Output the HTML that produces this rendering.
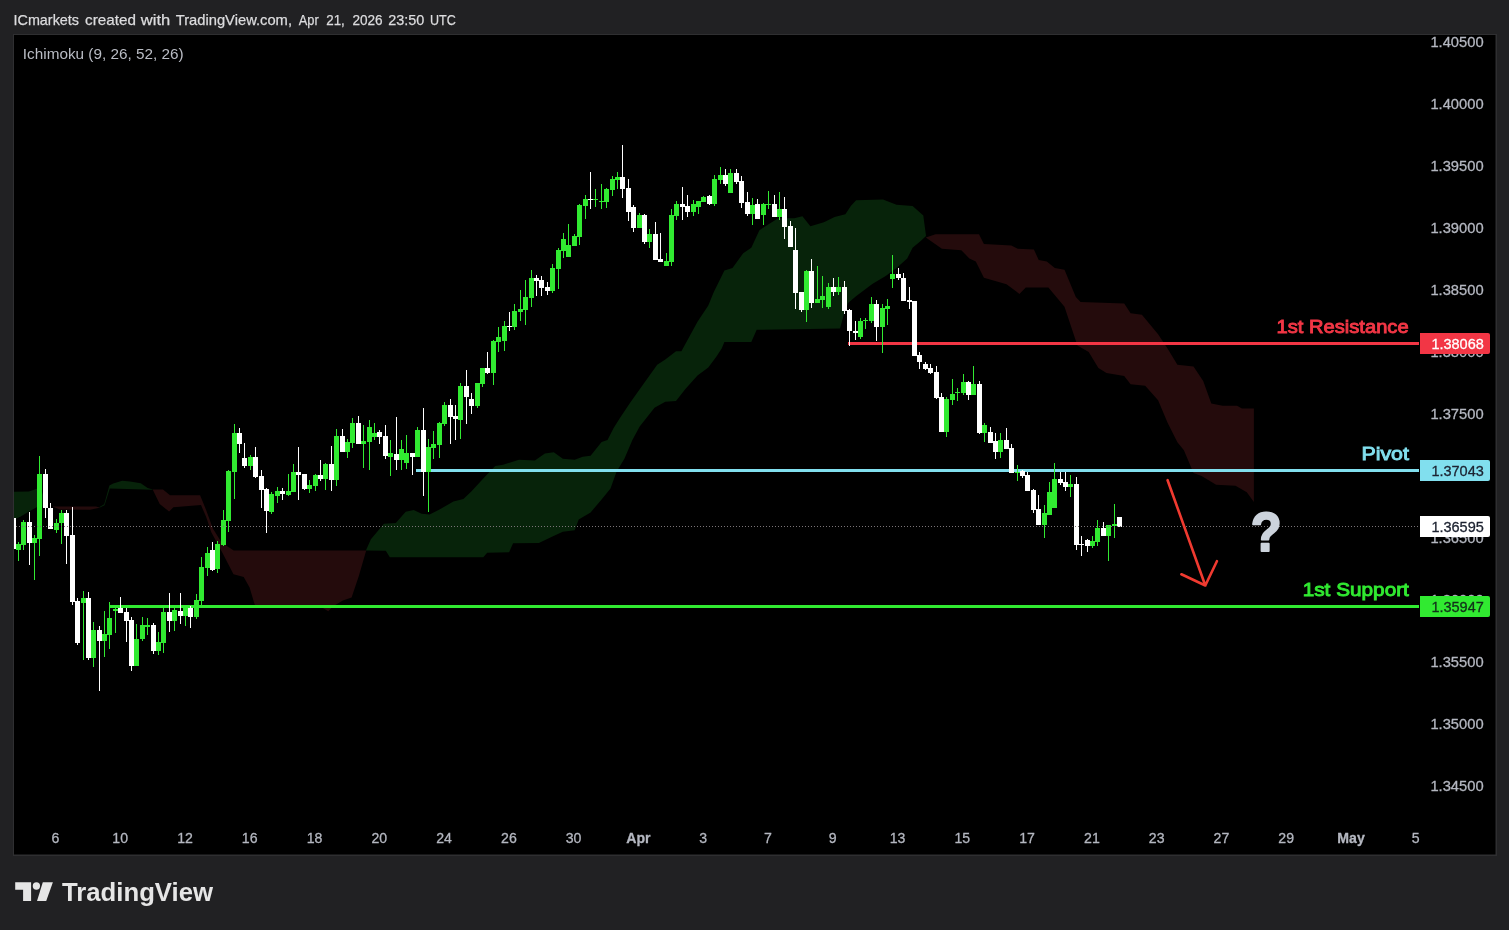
<!DOCTYPE html>
<html lang="en"><head><meta charset="utf-8"><title>ICmarkets chart - TradingView</title>
<style>
html,body{margin:0;padding:0;background:#212123;width:1509px;height:930px;overflow:hidden}
svg{position:absolute;left:0;top:0;display:block}
text{font-family:"Liberation Sans",sans-serif}
</style></head><body>
<svg width="1509" height="930" viewBox="0 0 1509 930">
<rect x="0" y="0" width="1509" height="930" fill="#212123"/>
<rect x="13" y="34" width="1484" height="822" fill="#2f2f31"/>
<rect x="14" y="35" width="1481.5" height="819.5" fill="#000"/>
<text y="24.9" fill="#dcdcde" font-size="15" stroke="#dcdcde" stroke-width="0.25"><tspan x="13.5" textLength="65.5" lengthAdjust="spacingAndGlyphs">ICmarkets</tspan> <tspan x="85.1" textLength="50.9" lengthAdjust="spacingAndGlyphs">created</tspan> <tspan x="140.8" textLength="29.4" lengthAdjust="spacingAndGlyphs">with</tspan> <tspan x="175.7" textLength="116.3" lengthAdjust="spacingAndGlyphs">TradingView.com,</tspan> <tspan x="298.7" textLength="20" lengthAdjust="spacingAndGlyphs">Apr</tspan> <tspan x="326.2" textLength="18.6" lengthAdjust="spacingAndGlyphs">21,</tspan> <tspan x="352.4" textLength="30.2" lengthAdjust="spacingAndGlyphs">2026</tspan> <tspan x="388.2" textLength="36.1" lengthAdjust="spacingAndGlyphs">23:50</tspan> <tspan x="430" textLength="25.8" lengthAdjust="spacingAndGlyphs">UTC</tspan></text>
<text x="22.8" y="59.1" textLength="160.9" lengthAdjust="spacingAndGlyphs" fill="#b9bcc4" font-size="14.8">Ichimoku (9, 26, 52, 26)</text>
<g id="cloud">
<polygon fill="#07230a" points="14.0,491.8 28.9,491.5 37.5,488.4 41.0,489.0 47.0,506.5 47.0,506.8 37.5,506.8 28.9,511.6 20.3,516.8 14.0,519.4"/>
<polygon fill="#240b0c" points="53.0,506.5 96.0,506.5 99.5,507.5 99.5,507.8 90.0,509.8 60.0,509.6 53.0,506.8"/>
<polygon fill="#07230a" points="99.5,507.0 104.2,504.2 109.4,485.5 113.2,483.5 122.3,480.7 130.0,481.6 140.8,483.2 147.6,488.0 152.8,489.6 152.8,489.8 109.8,488.6 104.6,505.2 99.5,507.8"/>
<polygon fill="#240b0c" points="152.8,489.6 163.0,489.6 170.0,495.3 200.1,495.3 206.1,509.9 213.0,528.8 221.6,542.6 233.7,550.4 366.2,550.4 366.2,550.6 358.9,575.8 351.6,597.6 342.9,600.6 332.7,606.4 328.3,611.3 322.4,607.8 255.4,606.4 253.9,602.0 249.6,587.4 243.7,577.0 233.5,574.3 221.6,551.2 211.3,532.3 206.1,516.8 201.0,505.1 173.4,507.3 169.1,511.6 159.7,503.9 152.8,489.8"/>
<polygon fill="#07230a" points="366.0,550.2 370.9,539.3 383.9,523.8 395.8,523.0 405.7,511.8 413.7,509.9 421.6,513.8 429.6,514.4 439.5,509.5 453.4,501.5 463.4,499.1 471.3,491.6 483.3,478.6 495.2,466.1 503.1,464.7 519.0,459.8 534.9,460.4 544.9,453.4 553.8,452.2 562.8,458.8 574.7,459.8 582.7,456.8 590.6,455.8 601.6,441.9 607.5,439.9 613.5,428.3 619.6,418.5 630.3,402.4 643.8,383.5 657.2,364.7 665.3,359.4 676.0,351.3 681.4,351.3 697.5,321.7 708.3,305.6 713.7,292.2 724.4,270.6 732.5,268.0 743.2,253.2 751.3,247.8 759.4,230.3 767.4,224.9 778.2,218.2 794.3,218.2 802.4,216.3 810.4,226.3 823.9,222.3 834.6,216.9 845.4,214.2 850.8,206.1 856.1,200.2 883.0,199.4 896.5,204.8 912.6,206.1 923.3,215.5 926.0,235.7 926.0,236.0 920.7,241.1 912.6,247.8 907.2,258.5 896.5,268.0 885.7,276.0 872.3,284.1 856.0,296.2 848.0,302.9 844.0,313.7 840.0,328.4 756.7,329.8 751.3,341.9 724.4,341.9 721.7,348.6 716.3,356.7 708.3,367.4 697.5,375.5 685.4,388.9 676.0,401.0 665.3,401.8 654.5,407.7 639.7,426.6 632.4,439.9 624.4,458.8 616.5,471.7 610.5,488.6 601.6,499.5 590.6,512.4 578.7,519.4 574.7,530.3 562.8,531.7 550.9,537.3 538.9,542.9 513.1,543.3 509.1,552.2 487.2,552.8 483.3,557.2 389.8,557.2 385.8,550.8 366.0,550.6"/>
<polygon fill="#240b0c" points="925.8,237.4 935.5,234.2 979.0,234.2 983.9,243.9 1011.3,245.5 1017.7,248.7 1033.9,249.4 1038.7,260.0 1046.8,261.6 1054.8,268.1 1064.5,269.7 1075.8,297.1 1080.6,301.9 1124.2,303.5 1130.6,313.2 1141.9,314.8 1158.1,334.2 1167.7,348.7 1177.4,364.8 1193.5,366.5 1203.2,381.0 1211.3,403.5 1222.6,405.8 1237.1,405.8 1241.9,408.4 1253.9,408.4 1253.9,501.9 1246.8,492.3 1235.5,485.8 1216.1,484.8 1201.6,476.1 1193.5,472.9 1183.9,450.3 1177.4,442.3 1167.7,422.9 1158.1,400.3 1145.2,385.8 1130.6,384.2 1124.2,376.1 1106.5,372.9 1098.4,368.1 1088.7,351.9 1077.4,345.5 1064.5,306.8 1048.4,287.4 1025.8,287.4 1019.4,293.9 1006.5,284.2 983.9,277.7 975.8,261.6 969.4,258.4 961.3,250.3 941.9,248.7 925.8,237.6"/>
</g>
<g id="lines" shape-rendering="crispEdges">
<rect x="848" y="342" width="571" height="3" fill="#f23645"/>
<rect x="416" y="469" width="1003" height="3" fill="#81dfee"/>
<rect x="109" y="605" width="1310" height="3" fill="#31ea31"/>
</g>
<g id="axis">
<text x="1430.4" y="47.2" textLength="53.2" lengthAdjust="spacingAndGlyphs" fill="#b4b7c0" stroke="#b4b7c0" stroke-width="0.3" font-size="15.2">1.40500</text>
<text x="1430.4" y="109.2" textLength="53.2" lengthAdjust="spacingAndGlyphs" fill="#b4b7c0" stroke="#b4b7c0" stroke-width="0.3" font-size="15.2">1.40000</text>
<text x="1430.4" y="171.2" textLength="53.2" lengthAdjust="spacingAndGlyphs" fill="#b4b7c0" stroke="#b4b7c0" stroke-width="0.3" font-size="15.2">1.39500</text>
<text x="1430.4" y="233.2" textLength="53.2" lengthAdjust="spacingAndGlyphs" fill="#b4b7c0" stroke="#b4b7c0" stroke-width="0.3" font-size="15.2">1.39000</text>
<text x="1430.4" y="295.2" textLength="53.2" lengthAdjust="spacingAndGlyphs" fill="#b4b7c0" stroke="#b4b7c0" stroke-width="0.3" font-size="15.2">1.38500</text>
<text x="1430.4" y="357.2" textLength="53.2" lengthAdjust="spacingAndGlyphs" fill="#b4b7c0" stroke="#b4b7c0" stroke-width="0.3" font-size="15.2">1.38000</text>
<text x="1430.4" y="419.2" textLength="53.2" lengthAdjust="spacingAndGlyphs" fill="#b4b7c0" stroke="#b4b7c0" stroke-width="0.3" font-size="15.2">1.37500</text>
<text x="1430.4" y="479.1" textLength="53.2" lengthAdjust="spacingAndGlyphs" fill="#b4b7c0" stroke="#b4b7c0" stroke-width="0.3" font-size="15.2">1.37000</text>
<text x="1430.4" y="543.2" textLength="53.2" lengthAdjust="spacingAndGlyphs" fill="#b4b7c0" stroke="#b4b7c0" stroke-width="0.3" font-size="15.2">1.36500</text>
<text x="1430.4" y="605.2" textLength="53.2" lengthAdjust="spacingAndGlyphs" fill="#b4b7c0" stroke="#b4b7c0" stroke-width="0.3" font-size="15.2">1.36000</text>
<text x="1430.4" y="667.2" textLength="53.2" lengthAdjust="spacingAndGlyphs" fill="#b4b7c0" stroke="#b4b7c0" stroke-width="0.3" font-size="15.2">1.35500</text>
<text x="1430.4" y="729.2" textLength="53.2" lengthAdjust="spacingAndGlyphs" fill="#b4b7c0" stroke="#b4b7c0" stroke-width="0.3" font-size="15.2">1.35000</text>
<text x="1430.4" y="791.2" textLength="53.2" lengthAdjust="spacingAndGlyphs" fill="#b4b7c0" stroke="#b4b7c0" stroke-width="0.3" font-size="15.2">1.34500</text>
<text transform="translate(55.4 843.4) scale(0.93 1)" text-anchor="middle" fill="#b4b7c0" stroke="#b4b7c0" stroke-width="0.3" font-size="15.2">6</text>
<text transform="translate(120.2 843.4) scale(0.93 1)" text-anchor="middle" fill="#b4b7c0" stroke="#b4b7c0" stroke-width="0.3" font-size="15.2">10</text>
<text transform="translate(185.0 843.4) scale(0.93 1)" text-anchor="middle" fill="#b4b7c0" stroke="#b4b7c0" stroke-width="0.3" font-size="15.2">12</text>
<text transform="translate(249.7 843.4) scale(0.93 1)" text-anchor="middle" fill="#b4b7c0" stroke="#b4b7c0" stroke-width="0.3" font-size="15.2">16</text>
<text transform="translate(314.5 843.4) scale(0.93 1)" text-anchor="middle" fill="#b4b7c0" stroke="#b4b7c0" stroke-width="0.3" font-size="15.2">18</text>
<text transform="translate(379.3 843.4) scale(0.93 1)" text-anchor="middle" fill="#b4b7c0" stroke="#b4b7c0" stroke-width="0.3" font-size="15.2">20</text>
<text transform="translate(444.1 843.4) scale(0.93 1)" text-anchor="middle" fill="#b4b7c0" stroke="#b4b7c0" stroke-width="0.3" font-size="15.2">24</text>
<text transform="translate(508.9 843.4) scale(0.93 1)" text-anchor="middle" fill="#b4b7c0" stroke="#b4b7c0" stroke-width="0.3" font-size="15.2">26</text>
<text transform="translate(573.6 843.4) scale(0.93 1)" text-anchor="middle" fill="#b4b7c0" stroke="#b4b7c0" stroke-width="0.3" font-size="15.2">30</text>
<text transform="translate(638.4 843.4) scale(0.93 1)" text-anchor="middle" fill="#b4b7c0" stroke="#b4b7c0" stroke-width="0.3" font-size="15.2" font-weight="bold">Apr</text>
<text transform="translate(703.2 843.4) scale(0.93 1)" text-anchor="middle" fill="#b4b7c0" stroke="#b4b7c0" stroke-width="0.3" font-size="15.2">3</text>
<text transform="translate(768.0 843.4) scale(0.93 1)" text-anchor="middle" fill="#b4b7c0" stroke="#b4b7c0" stroke-width="0.3" font-size="15.2">7</text>
<text transform="translate(832.8 843.4) scale(0.93 1)" text-anchor="middle" fill="#b4b7c0" stroke="#b4b7c0" stroke-width="0.3" font-size="15.2">9</text>
<text transform="translate(897.5 843.4) scale(0.93 1)" text-anchor="middle" fill="#b4b7c0" stroke="#b4b7c0" stroke-width="0.3" font-size="15.2">13</text>
<text transform="translate(962.3 843.4) scale(0.93 1)" text-anchor="middle" fill="#b4b7c0" stroke="#b4b7c0" stroke-width="0.3" font-size="15.2">15</text>
<text transform="translate(1027.1 843.4) scale(0.93 1)" text-anchor="middle" fill="#b4b7c0" stroke="#b4b7c0" stroke-width="0.3" font-size="15.2">17</text>
<text transform="translate(1091.9 843.4) scale(0.93 1)" text-anchor="middle" fill="#b4b7c0" stroke="#b4b7c0" stroke-width="0.3" font-size="15.2">21</text>
<text transform="translate(1156.7 843.4) scale(0.93 1)" text-anchor="middle" fill="#b4b7c0" stroke="#b4b7c0" stroke-width="0.3" font-size="15.2">23</text>
<text transform="translate(1221.4 843.4) scale(0.93 1)" text-anchor="middle" fill="#b4b7c0" stroke="#b4b7c0" stroke-width="0.3" font-size="15.2">27</text>
<text transform="translate(1286.2 843.4) scale(0.93 1)" text-anchor="middle" fill="#b4b7c0" stroke="#b4b7c0" stroke-width="0.3" font-size="15.2">29</text>
<text transform="translate(1351.0 843.4) scale(0.93 1)" text-anchor="middle" fill="#b4b7c0" stroke="#b4b7c0" stroke-width="0.3" font-size="15.2" font-weight="bold">May</text>
<text transform="translate(1415.8 843.4) scale(0.93 1)" text-anchor="middle" fill="#b4b7c0" stroke="#b4b7c0" stroke-width="0.3" font-size="15.2">5</text>
</g>
<g id="candles" shape-rendering="crispEdges">
<rect x="14" y="518" width="2" height="31" fill="#ffffff"/>
<rect x="18" y="542" width="1" height="19" fill="#31ea31"/>
<rect x="16" y="544" width="5" height="6" fill="#31ea31"/>
<rect x="23" y="520" width="1" height="30" fill="#31ea31"/>
<rect x="21" y="522" width="5" height="23" fill="#31ea31"/>
<rect x="29" y="512" width="1" height="53" fill="#ffffff"/>
<rect x="27" y="522" width="5" height="21" fill="#ffffff"/>
<rect x="34" y="535" width="1" height="45" fill="#31ea31"/>
<rect x="32" y="538" width="5" height="5" fill="#31ea31"/>
<rect x="39" y="456" width="1" height="100" fill="#31ea31"/>
<rect x="37" y="474" width="5" height="65" fill="#31ea31"/>
<rect x="45" y="469" width="1" height="49" fill="#ffffff"/>
<rect x="43" y="474" width="5" height="34" fill="#ffffff"/>
<rect x="50" y="503" width="1" height="26" fill="#ffffff"/>
<rect x="48" y="508" width="5" height="21" fill="#ffffff"/>
<rect x="56" y="519" width="1" height="14" fill="#31ea31"/>
<rect x="54" y="523" width="5" height="7" fill="#31ea31"/>
<rect x="61" y="510" width="1" height="34" fill="#31ea31"/>
<rect x="59" y="513" width="5" height="10" fill="#31ea31"/>
<rect x="66" y="510" width="1" height="54" fill="#ffffff"/>
<rect x="64" y="513" width="5" height="23" fill="#ffffff"/>
<rect x="72" y="507" width="1" height="98" fill="#ffffff"/>
<rect x="70" y="535" width="5" height="67" fill="#ffffff"/>
<rect x="77" y="598" width="1" height="47" fill="#ffffff"/>
<rect x="75" y="601" width="5" height="42" fill="#ffffff"/>
<rect x="83" y="591" width="1" height="69" fill="#31ea31"/>
<rect x="81" y="598" width="5" height="5" fill="#31ea31"/>
<rect x="88" y="592" width="1" height="68" fill="#ffffff"/>
<rect x="86" y="598" width="5" height="60" fill="#ffffff"/>
<rect x="93" y="622" width="1" height="45" fill="#31ea31"/>
<rect x="91" y="630" width="5" height="28" fill="#31ea31"/>
<rect x="99" y="626" width="1" height="65" fill="#ffffff"/>
<rect x="97" y="630" width="5" height="11" fill="#ffffff"/>
<rect x="104" y="611" width="1" height="46" fill="#31ea31"/>
<rect x="102" y="634" width="5" height="7" fill="#31ea31"/>
<rect x="109" y="602" width="1" height="47" fill="#31ea31"/>
<rect x="107" y="618" width="5" height="17" fill="#31ea31"/>
<rect x="115" y="607" width="1" height="26" fill="#31ea31"/>
<rect x="113" y="609" width="5" height="2" fill="#31ea31"/>
<rect x="120" y="597" width="1" height="16" fill="#ffffff"/>
<rect x="118" y="608" width="5" height="5" fill="#ffffff"/>
<rect x="126" y="608" width="1" height="34" fill="#ffffff"/>
<rect x="124" y="612" width="5" height="9" fill="#ffffff"/>
<rect x="131" y="617" width="1" height="54" fill="#ffffff"/>
<rect x="129" y="620" width="5" height="46" fill="#ffffff"/>
<rect x="136" y="624" width="1" height="42" fill="#31ea31"/>
<rect x="134" y="639" width="5" height="27" fill="#31ea31"/>
<rect x="142" y="617" width="1" height="24" fill="#31ea31"/>
<rect x="140" y="625" width="5" height="14" fill="#31ea31"/>
<rect x="147" y="618" width="1" height="17" fill="#31ea31"/>
<rect x="145" y="625" width="5" height="2" fill="#31ea31"/>
<rect x="153" y="623" width="1" height="31" fill="#ffffff"/>
<rect x="151" y="625" width="5" height="26" fill="#ffffff"/>
<rect x="158" y="632" width="1" height="23" fill="#31ea31"/>
<rect x="156" y="642" width="5" height="9" fill="#31ea31"/>
<rect x="163" y="608" width="1" height="45" fill="#31ea31"/>
<rect x="161" y="612" width="5" height="31" fill="#31ea31"/>
<rect x="169" y="593" width="1" height="39" fill="#ffffff"/>
<rect x="167" y="612" width="5" height="9" fill="#ffffff"/>
<rect x="174" y="608" width="1" height="23" fill="#31ea31"/>
<rect x="172" y="610" width="5" height="11" fill="#31ea31"/>
<rect x="180" y="593" width="1" height="31" fill="#ffffff"/>
<rect x="178" y="611" width="5" height="5" fill="#ffffff"/>
<rect x="185" y="607" width="1" height="19" fill="#31ea31"/>
<rect x="183" y="607" width="5" height="9" fill="#31ea31"/>
<rect x="190" y="606" width="1" height="22" fill="#ffffff"/>
<rect x="188" y="608" width="5" height="9" fill="#ffffff"/>
<rect x="196" y="594" width="1" height="25" fill="#31ea31"/>
<rect x="194" y="600" width="5" height="17" fill="#31ea31"/>
<rect x="201" y="557" width="1" height="48" fill="#31ea31"/>
<rect x="199" y="567" width="5" height="34" fill="#31ea31"/>
<rect x="207" y="547" width="1" height="29" fill="#31ea31"/>
<rect x="205" y="553" width="5" height="15" fill="#31ea31"/>
<rect x="212" y="542" width="1" height="29" fill="#ffffff"/>
<rect x="210" y="550" width="5" height="20" fill="#ffffff"/>
<rect x="217" y="541" width="1" height="32" fill="#31ea31"/>
<rect x="215" y="544" width="5" height="25" fill="#31ea31"/>
<rect x="223" y="510" width="1" height="36" fill="#31ea31"/>
<rect x="221" y="520" width="5" height="25" fill="#31ea31"/>
<rect x="228" y="470" width="1" height="62" fill="#31ea31"/>
<rect x="226" y="471" width="5" height="50" fill="#31ea31"/>
<rect x="234" y="424" width="1" height="75" fill="#31ea31"/>
<rect x="232" y="433" width="5" height="39" fill="#31ea31"/>
<rect x="239" y="428" width="1" height="25" fill="#ffffff"/>
<rect x="237" y="433" width="5" height="11" fill="#ffffff"/>
<rect x="244" y="443" width="1" height="25" fill="#ffffff"/>
<rect x="242" y="458" width="5" height="8" fill="#ffffff"/>
<rect x="250" y="455" width="1" height="15" fill="#31ea31"/>
<rect x="248" y="457" width="5" height="9" fill="#31ea31"/>
<rect x="255" y="447" width="1" height="31" fill="#ffffff"/>
<rect x="253" y="457" width="5" height="20" fill="#ffffff"/>
<rect x="261" y="470" width="1" height="38" fill="#ffffff"/>
<rect x="259" y="476" width="5" height="14" fill="#ffffff"/>
<rect x="266" y="488" width="1" height="45" fill="#ffffff"/>
<rect x="264" y="489" width="5" height="22" fill="#ffffff"/>
<rect x="271" y="492" width="1" height="22" fill="#31ea31"/>
<rect x="269" y="494" width="5" height="18" fill="#31ea31"/>
<rect x="277" y="487" width="1" height="16" fill="#31ea31"/>
<rect x="275" y="491" width="5" height="5" fill="#31ea31"/>
<rect x="282" y="488" width="1" height="12" fill="#ffffff"/>
<rect x="280" y="491" width="5" height="3" fill="#ffffff"/>
<rect x="288" y="474" width="1" height="22" fill="#31ea31"/>
<rect x="286" y="491" width="5" height="4" fill="#31ea31"/>
<rect x="293" y="464" width="1" height="28" fill="#31ea31"/>
<rect x="291" y="472" width="5" height="20" fill="#31ea31"/>
<rect x="298" y="447" width="1" height="53" fill="#ffffff"/>
<rect x="296" y="472" width="5" height="3" fill="#ffffff"/>
<rect x="304" y="474" width="1" height="16" fill="#ffffff"/>
<rect x="302" y="474" width="5" height="15" fill="#ffffff"/>
<rect x="309" y="480" width="1" height="13" fill="#31ea31"/>
<rect x="307" y="485" width="5" height="4" fill="#31ea31"/>
<rect x="315" y="474" width="1" height="17" fill="#31ea31"/>
<rect x="313" y="475" width="5" height="11" fill="#31ea31"/>
<rect x="320" y="460" width="1" height="21" fill="#ffffff"/>
<rect x="318" y="475" width="5" height="4" fill="#ffffff"/>
<rect x="325" y="463" width="1" height="27" fill="#31ea31"/>
<rect x="323" y="464" width="5" height="15" fill="#31ea31"/>
<rect x="331" y="446" width="1" height="45" fill="#ffffff"/>
<rect x="329" y="464" width="5" height="16" fill="#ffffff"/>
<rect x="336" y="429" width="1" height="57" fill="#31ea31"/>
<rect x="334" y="436" width="5" height="44" fill="#31ea31"/>
<rect x="342" y="429" width="1" height="23" fill="#ffffff"/>
<rect x="340" y="436" width="5" height="16" fill="#ffffff"/>
<rect x="347" y="439" width="1" height="19" fill="#31ea31"/>
<rect x="345" y="442" width="5" height="10" fill="#31ea31"/>
<rect x="352" y="418" width="1" height="30" fill="#31ea31"/>
<rect x="350" y="423" width="5" height="20" fill="#31ea31"/>
<rect x="358" y="416" width="1" height="28" fill="#ffffff"/>
<rect x="356" y="423" width="5" height="21" fill="#ffffff"/>
<rect x="363" y="425" width="1" height="43" fill="#31ea31"/>
<rect x="361" y="441" width="5" height="3" fill="#31ea31"/>
<rect x="369" y="420" width="1" height="50" fill="#31ea31"/>
<rect x="367" y="427" width="5" height="15" fill="#31ea31"/>
<rect x="374" y="423" width="1" height="17" fill="#31ea31"/>
<rect x="372" y="433" width="5" height="4" fill="#31ea31"/>
<rect x="379" y="430" width="1" height="14" fill="#ffffff"/>
<rect x="377" y="432" width="5" height="5" fill="#ffffff"/>
<rect x="385" y="425" width="1" height="34" fill="#ffffff"/>
<rect x="383" y="436" width="5" height="20" fill="#ffffff"/>
<rect x="390" y="440" width="1" height="36" fill="#31ea31"/>
<rect x="388" y="453" width="5" height="4" fill="#31ea31"/>
<rect x="396" y="417" width="1" height="53" fill="#ffffff"/>
<rect x="394" y="454" width="5" height="6" fill="#ffffff"/>
<rect x="401" y="440" width="1" height="30" fill="#31ea31"/>
<rect x="399" y="449" width="5" height="11" fill="#31ea31"/>
<rect x="406" y="435" width="1" height="34" fill="#31ea31"/>
<rect x="404" y="453" width="5" height="10" fill="#31ea31"/>
<rect x="412" y="453" width="1" height="22" fill="#ffffff"/>
<rect x="410" y="453" width="5" height="4" fill="#ffffff"/>
<rect x="417" y="427" width="1" height="30" fill="#31ea31"/>
<rect x="415" y="430" width="5" height="27" fill="#31ea31"/>
<rect x="423" y="408" width="1" height="88" fill="#ffffff"/>
<rect x="421" y="430" width="5" height="42" fill="#ffffff"/>
<rect x="428" y="439" width="1" height="73" fill="#31ea31"/>
<rect x="426" y="447" width="5" height="25" fill="#31ea31"/>
<rect x="433" y="431" width="1" height="28" fill="#31ea31"/>
<rect x="431" y="444" width="5" height="4" fill="#31ea31"/>
<rect x="439" y="422" width="1" height="36" fill="#31ea31"/>
<rect x="437" y="423" width="5" height="22" fill="#31ea31"/>
<rect x="444" y="402" width="1" height="24" fill="#31ea31"/>
<rect x="442" y="405" width="5" height="19" fill="#31ea31"/>
<rect x="450" y="399" width="1" height="45" fill="#ffffff"/>
<rect x="448" y="405" width="5" height="12" fill="#ffffff"/>
<rect x="455" y="405" width="1" height="35" fill="#ffffff"/>
<rect x="453" y="416" width="5" height="3" fill="#ffffff"/>
<rect x="460" y="383" width="1" height="56" fill="#31ea31"/>
<rect x="458" y="386" width="5" height="34" fill="#31ea31"/>
<rect x="466" y="370" width="1" height="54" fill="#ffffff"/>
<rect x="464" y="386" width="5" height="11" fill="#ffffff"/>
<rect x="471" y="393" width="1" height="21" fill="#ffffff"/>
<rect x="469" y="399" width="5" height="7" fill="#ffffff"/>
<rect x="477" y="383" width="1" height="25" fill="#31ea31"/>
<rect x="475" y="383" width="5" height="23" fill="#31ea31"/>
<rect x="482" y="368" width="1" height="19" fill="#31ea31"/>
<rect x="480" y="368" width="5" height="16" fill="#31ea31"/>
<rect x="487" y="352" width="1" height="22" fill="#ffffff"/>
<rect x="485" y="368" width="5" height="5" fill="#ffffff"/>
<rect x="493" y="340" width="1" height="45" fill="#31ea31"/>
<rect x="491" y="341" width="5" height="32" fill="#31ea31"/>
<rect x="498" y="327" width="1" height="25" fill="#31ea31"/>
<rect x="496" y="337" width="5" height="5" fill="#31ea31"/>
<rect x="504" y="321" width="1" height="30" fill="#31ea31"/>
<rect x="502" y="326" width="5" height="15" fill="#31ea31"/>
<rect x="509" y="312" width="1" height="19" fill="#ffffff"/>
<rect x="507" y="326" width="5" height="1" fill="#ffffff"/>
<rect x="514" y="304" width="1" height="26" fill="#31ea31"/>
<rect x="512" y="311" width="5" height="16" fill="#31ea31"/>
<rect x="520" y="290" width="1" height="31" fill="#31ea31"/>
<rect x="518" y="309" width="5" height="3" fill="#31ea31"/>
<rect x="525" y="280" width="1" height="45" fill="#31ea31"/>
<rect x="523" y="297" width="5" height="13" fill="#31ea31"/>
<rect x="531" y="270" width="1" height="37" fill="#31ea31"/>
<rect x="529" y="278" width="5" height="20" fill="#31ea31"/>
<rect x="536" y="275" width="1" height="21" fill="#ffffff"/>
<rect x="534" y="278" width="5" height="3" fill="#ffffff"/>
<rect x="541" y="276" width="1" height="20" fill="#ffffff"/>
<rect x="539" y="280" width="5" height="8" fill="#ffffff"/>
<rect x="547" y="282" width="1" height="13" fill="#ffffff"/>
<rect x="545" y="287" width="5" height="4" fill="#ffffff"/>
<rect x="552" y="264" width="1" height="29" fill="#31ea31"/>
<rect x="550" y="268" width="5" height="23" fill="#31ea31"/>
<rect x="558" y="248" width="1" height="41" fill="#31ea31"/>
<rect x="556" y="250" width="5" height="19" fill="#31ea31"/>
<rect x="563" y="233" width="1" height="25" fill="#31ea31"/>
<rect x="561" y="239" width="5" height="12" fill="#31ea31"/>
<rect x="568" y="224" width="1" height="33" fill="#31ea31"/>
<rect x="566" y="245" width="5" height="12" fill="#31ea31"/>
<rect x="574" y="234" width="1" height="12" fill="#31ea31"/>
<rect x="572" y="236" width="5" height="10" fill="#31ea31"/>
<rect x="579" y="204" width="1" height="41" fill="#31ea31"/>
<rect x="577" y="205" width="5" height="32" fill="#31ea31"/>
<rect x="585" y="195" width="1" height="24" fill="#31ea31"/>
<rect x="583" y="199" width="5" height="7" fill="#31ea31"/>
<rect x="590" y="172" width="1" height="37" fill="#ffffff"/>
<rect x="588" y="199" width="5" height="1" fill="#ffffff"/>
<rect x="595" y="189" width="1" height="18" fill="#31ea31"/>
<rect x="593" y="199" width="5" height="1" fill="#31ea31"/>
<rect x="601" y="184" width="1" height="25" fill="#31ea31"/>
<rect x="599" y="201" width="5" height="1" fill="#31ea31"/>
<rect x="606" y="188" width="1" height="20" fill="#31ea31"/>
<rect x="604" y="189" width="5" height="13" fill="#31ea31"/>
<rect x="612" y="176" width="1" height="20" fill="#31ea31"/>
<rect x="610" y="179" width="5" height="11" fill="#31ea31"/>
<rect x="617" y="172" width="1" height="17" fill="#31ea31"/>
<rect x="615" y="177" width="5" height="3" fill="#31ea31"/>
<rect x="622" y="145" width="1" height="53" fill="#ffffff"/>
<rect x="620" y="177" width="5" height="12" fill="#ffffff"/>
<rect x="628" y="179" width="1" height="42" fill="#ffffff"/>
<rect x="626" y="188" width="5" height="24" fill="#ffffff"/>
<rect x="633" y="205" width="1" height="27" fill="#ffffff"/>
<rect x="631" y="207" width="5" height="21" fill="#ffffff"/>
<rect x="639" y="213" width="1" height="15" fill="#31ea31"/>
<rect x="637" y="215" width="5" height="13" fill="#31ea31"/>
<rect x="644" y="214" width="1" height="30" fill="#ffffff"/>
<rect x="642" y="215" width="5" height="27" fill="#ffffff"/>
<rect x="649" y="229" width="1" height="19" fill="#31ea31"/>
<rect x="647" y="234" width="5" height="8" fill="#31ea31"/>
<rect x="655" y="222" width="1" height="38" fill="#ffffff"/>
<rect x="653" y="234" width="5" height="26" fill="#ffffff"/>
<rect x="660" y="233" width="1" height="29" fill="#ffffff"/>
<rect x="658" y="259" width="5" height="3" fill="#ffffff"/>
<rect x="666" y="253" width="1" height="13" fill="#31ea31"/>
<rect x="664" y="261" width="5" height="5" fill="#31ea31"/>
<rect x="671" y="209" width="1" height="57" fill="#31ea31"/>
<rect x="669" y="215" width="5" height="47" fill="#31ea31"/>
<rect x="676" y="201" width="1" height="19" fill="#31ea31"/>
<rect x="674" y="204" width="5" height="12" fill="#31ea31"/>
<rect x="682" y="187" width="1" height="33" fill="#ffffff"/>
<rect x="680" y="204" width="5" height="3" fill="#ffffff"/>
<rect x="687" y="195" width="1" height="22" fill="#ffffff"/>
<rect x="685" y="206" width="5" height="6" fill="#ffffff"/>
<rect x="693" y="200" width="1" height="16" fill="#31ea31"/>
<rect x="691" y="204" width="5" height="8" fill="#31ea31"/>
<rect x="698" y="201" width="1" height="13" fill="#31ea31"/>
<rect x="696" y="201" width="5" height="6" fill="#31ea31"/>
<rect x="703" y="196" width="1" height="6" fill="#31ea31"/>
<rect x="701" y="197" width="5" height="5" fill="#31ea31"/>
<rect x="709" y="195" width="1" height="10" fill="#ffffff"/>
<rect x="707" y="196" width="5" height="8" fill="#ffffff"/>
<rect x="714" y="175" width="1" height="31" fill="#31ea31"/>
<rect x="712" y="179" width="5" height="25" fill="#31ea31"/>
<rect x="720" y="167" width="1" height="17" fill="#31ea31"/>
<rect x="718" y="175" width="5" height="5" fill="#31ea31"/>
<rect x="725" y="169" width="1" height="17" fill="#ffffff"/>
<rect x="723" y="175" width="5" height="9" fill="#ffffff"/>
<rect x="730" y="169" width="1" height="24" fill="#31ea31"/>
<rect x="728" y="173" width="5" height="20" fill="#31ea31"/>
<rect x="736" y="169" width="1" height="15" fill="#ffffff"/>
<rect x="734" y="173" width="5" height="9" fill="#ffffff"/>
<rect x="741" y="176" width="1" height="32" fill="#ffffff"/>
<rect x="739" y="181" width="5" height="22" fill="#ffffff"/>
<rect x="747" y="192" width="1" height="24" fill="#ffffff"/>
<rect x="745" y="202" width="5" height="12" fill="#ffffff"/>
<rect x="752" y="198" width="1" height="27" fill="#31ea31"/>
<rect x="750" y="205" width="5" height="9" fill="#31ea31"/>
<rect x="757" y="199" width="1" height="20" fill="#ffffff"/>
<rect x="755" y="204" width="5" height="15" fill="#ffffff"/>
<rect x="763" y="203" width="1" height="22" fill="#31ea31"/>
<rect x="761" y="204" width="5" height="11" fill="#31ea31"/>
<rect x="768" y="191" width="1" height="18" fill="#31ea31"/>
<rect x="766" y="204" width="5" height="1" fill="#31ea31"/>
<rect x="774" y="195" width="1" height="22" fill="#ffffff"/>
<rect x="772" y="204" width="5" height="13" fill="#ffffff"/>
<rect x="779" y="192" width="1" height="28" fill="#31ea31"/>
<rect x="777" y="209" width="5" height="8" fill="#31ea31"/>
<rect x="784" y="197" width="1" height="42" fill="#ffffff"/>
<rect x="782" y="209" width="5" height="18" fill="#ffffff"/>
<rect x="790" y="221" width="1" height="26" fill="#ffffff"/>
<rect x="788" y="226" width="5" height="21" fill="#ffffff"/>
<rect x="795" y="228" width="1" height="81" fill="#ffffff"/>
<rect x="793" y="250" width="5" height="43" fill="#ffffff"/>
<rect x="801" y="292" width="1" height="20" fill="#ffffff"/>
<rect x="799" y="292" width="5" height="18" fill="#ffffff"/>
<rect x="806" y="270" width="1" height="52" fill="#31ea31"/>
<rect x="804" y="271" width="5" height="39" fill="#31ea31"/>
<rect x="811" y="259" width="1" height="49" fill="#ffffff"/>
<rect x="809" y="271" width="5" height="32" fill="#ffffff"/>
<rect x="817" y="266" width="1" height="37" fill="#31ea31"/>
<rect x="815" y="299" width="5" height="4" fill="#31ea31"/>
<rect x="822" y="276" width="1" height="32" fill="#31ea31"/>
<rect x="820" y="296" width="5" height="4" fill="#31ea31"/>
<rect x="828" y="283" width="1" height="26" fill="#31ea31"/>
<rect x="826" y="287" width="5" height="20" fill="#31ea31"/>
<rect x="833" y="278" width="1" height="18" fill="#ffffff"/>
<rect x="831" y="287" width="5" height="5" fill="#ffffff"/>
<rect x="838" y="277" width="1" height="18" fill="#31ea31"/>
<rect x="836" y="287" width="5" height="5" fill="#31ea31"/>
<rect x="844" y="281" width="1" height="33" fill="#ffffff"/>
<rect x="842" y="287" width="5" height="24" fill="#ffffff"/>
<rect x="849" y="309" width="1" height="37" fill="#ffffff"/>
<rect x="847" y="310" width="5" height="21" fill="#ffffff"/>
<rect x="855" y="321" width="1" height="19" fill="#ffffff"/>
<rect x="853" y="331" width="5" height="2" fill="#ffffff"/>
<rect x="860" y="318" width="1" height="21" fill="#31ea31"/>
<rect x="858" y="321" width="5" height="16" fill="#31ea31"/>
<rect x="865" y="318" width="1" height="11" fill="#31ea31"/>
<rect x="863" y="320" width="5" height="1" fill="#31ea31"/>
<rect x="871" y="297" width="1" height="26" fill="#31ea31"/>
<rect x="869" y="304" width="5" height="17" fill="#31ea31"/>
<rect x="876" y="300" width="1" height="41" fill="#ffffff"/>
<rect x="874" y="304" width="5" height="23" fill="#ffffff"/>
<rect x="882" y="304" width="1" height="49" fill="#31ea31"/>
<rect x="880" y="308" width="5" height="19" fill="#31ea31"/>
<rect x="887" y="299" width="1" height="26" fill="#31ea31"/>
<rect x="885" y="306" width="5" height="3" fill="#31ea31"/>
<rect x="892" y="255" width="1" height="33" fill="#31ea31"/>
<rect x="890" y="274" width="5" height="5" fill="#31ea31"/>
<rect x="898" y="268" width="1" height="12" fill="#ffffff"/>
<rect x="896" y="274" width="5" height="4" fill="#ffffff"/>
<rect x="903" y="273" width="1" height="28" fill="#ffffff"/>
<rect x="901" y="278" width="5" height="23" fill="#ffffff"/>
<rect x="909" y="287" width="1" height="22" fill="#ffffff"/>
<rect x="907" y="300" width="5" height="2" fill="#ffffff"/>
<rect x="914" y="301" width="1" height="55" fill="#ffffff"/>
<rect x="912" y="301" width="5" height="55" fill="#ffffff"/>
<rect x="919" y="352" width="1" height="17" fill="#ffffff"/>
<rect x="917" y="355" width="5" height="7" fill="#ffffff"/>
<rect x="925" y="362" width="1" height="8" fill="#ffffff"/>
<rect x="923" y="364" width="5" height="5" fill="#ffffff"/>
<rect x="930" y="364" width="1" height="10" fill="#ffffff"/>
<rect x="928" y="368" width="5" height="5" fill="#ffffff"/>
<rect x="936" y="366" width="1" height="33" fill="#ffffff"/>
<rect x="934" y="372" width="5" height="26" fill="#ffffff"/>
<rect x="941" y="393" width="1" height="39" fill="#ffffff"/>
<rect x="939" y="397" width="5" height="35" fill="#ffffff"/>
<rect x="946" y="397" width="1" height="40" fill="#31ea31"/>
<rect x="944" y="399" width="5" height="33" fill="#31ea31"/>
<rect x="952" y="379" width="1" height="26" fill="#31ea31"/>
<rect x="950" y="394" width="5" height="6" fill="#31ea31"/>
<rect x="957" y="388" width="1" height="13" fill="#31ea31"/>
<rect x="955" y="392" width="5" height="1" fill="#31ea31"/>
<rect x="963" y="374" width="1" height="21" fill="#31ea31"/>
<rect x="961" y="382" width="5" height="11" fill="#31ea31"/>
<rect x="968" y="381" width="1" height="19" fill="#ffffff"/>
<rect x="966" y="382" width="5" height="13" fill="#ffffff"/>
<rect x="973" y="366" width="1" height="29" fill="#31ea31"/>
<rect x="971" y="384" width="5" height="11" fill="#31ea31"/>
<rect x="979" y="381" width="1" height="53" fill="#ffffff"/>
<rect x="977" y="384" width="5" height="49" fill="#ffffff"/>
<rect x="984" y="423" width="1" height="19" fill="#31ea31"/>
<rect x="982" y="425" width="5" height="8" fill="#31ea31"/>
<rect x="990" y="427" width="1" height="16" fill="#ffffff"/>
<rect x="988" y="432" width="5" height="11" fill="#ffffff"/>
<rect x="995" y="433" width="1" height="26" fill="#ffffff"/>
<rect x="993" y="441" width="5" height="11" fill="#ffffff"/>
<rect x="1000" y="433" width="1" height="25" fill="#31ea31"/>
<rect x="998" y="440" width="5" height="12" fill="#31ea31"/>
<rect x="1006" y="428" width="1" height="21" fill="#ffffff"/>
<rect x="1004" y="440" width="5" height="9" fill="#ffffff"/>
<rect x="1011" y="444" width="1" height="29" fill="#ffffff"/>
<rect x="1009" y="448" width="5" height="25" fill="#ffffff"/>
<rect x="1017" y="465" width="1" height="16" fill="#31ea31"/>
<rect x="1015" y="472" width="5" height="1" fill="#31ea31"/>
<rect x="1022" y="470" width="1" height="8" fill="#ffffff"/>
<rect x="1020" y="471" width="5" height="5" fill="#ffffff"/>
<rect x="1027" y="472" width="1" height="19" fill="#ffffff"/>
<rect x="1025" y="475" width="5" height="16" fill="#ffffff"/>
<rect x="1033" y="489" width="1" height="24" fill="#ffffff"/>
<rect x="1031" y="490" width="5" height="20" fill="#ffffff"/>
<rect x="1038" y="495" width="1" height="30" fill="#ffffff"/>
<rect x="1036" y="509" width="5" height="16" fill="#ffffff"/>
<rect x="1044" y="505" width="1" height="33" fill="#31ea31"/>
<rect x="1042" y="513" width="5" height="12" fill="#31ea31"/>
<rect x="1049" y="482" width="1" height="33" fill="#31ea31"/>
<rect x="1047" y="492" width="5" height="23" fill="#31ea31"/>
<rect x="1054" y="463" width="1" height="45" fill="#31ea31"/>
<rect x="1052" y="479" width="5" height="29" fill="#31ea31"/>
<rect x="1060" y="472" width="1" height="13" fill="#ffffff"/>
<rect x="1058" y="479" width="5" height="4" fill="#ffffff"/>
<rect x="1065" y="472" width="1" height="19" fill="#ffffff"/>
<rect x="1063" y="482" width="5" height="5" fill="#ffffff"/>
<rect x="1070" y="475" width="1" height="22" fill="#31ea31"/>
<rect x="1068" y="484" width="5" height="3" fill="#31ea31"/>
<rect x="1076" y="477" width="1" height="73" fill="#ffffff"/>
<rect x="1074" y="484" width="5" height="61" fill="#ffffff"/>
<rect x="1081" y="536" width="1" height="20" fill="#ffffff"/>
<rect x="1079" y="544" width="5" height="1" fill="#ffffff"/>
<rect x="1087" y="539" width="1" height="13" fill="#ffffff"/>
<rect x="1085" y="540" width="5" height="6" fill="#ffffff"/>
<rect x="1092" y="536" width="1" height="12" fill="#31ea31"/>
<rect x="1090" y="541" width="5" height="5" fill="#31ea31"/>
<rect x="1097" y="520" width="1" height="26" fill="#31ea31"/>
<rect x="1095" y="528" width="5" height="14" fill="#31ea31"/>
<rect x="1103" y="522" width="1" height="14" fill="#ffffff"/>
<rect x="1101" y="528" width="5" height="8" fill="#ffffff"/>
<rect x="1108" y="525" width="1" height="36" fill="#31ea31"/>
<rect x="1106" y="525" width="5" height="11" fill="#31ea31"/>
<rect x="1114" y="504" width="1" height="34" fill="#31ea31"/>
<rect x="1112" y="524" width="5" height="2" fill="#31ea31"/>
<rect x="1119" y="517" width="1" height="10" fill="#ffffff"/>
<rect x="1117" y="517" width="5" height="10" fill="#ffffff"/>
</g>
<line x1="16" y1="526.5" x2="1420" y2="526.5" stroke="#7a7477" stroke-width="1" stroke-dasharray="1 2" shape-rendering="crispEdges"/>
<g id="annot">
<path d="M1167.6 480.2 L1205.3 585.5 M1181.4 574.3 L1205.3 585.5 L1216.9 561.2" fill="none" stroke="#f03a30" stroke-width="2.6" stroke-linecap="round" stroke-linejoin="round"/>
<text id="qm" x="0" y="0" transform="translate(1266.2 551.3) scale(0.92 1)" text-anchor="middle" font-weight="bold" font-size="55" fill="#ccd3dc" stroke="#ccd3dc" stroke-width="2" stroke-linejoin="round">?</text>
<text x="1408.6" y="333.4" text-anchor="end" textLength="132" lengthAdjust="spacingAndGlyphs" font-size="18.4" fill="#f23645" stroke="#f23645" stroke-width="0.9">1st Resistance</text>
<text x="1408.9" y="460.4" text-anchor="end" textLength="47.5" lengthAdjust="spacingAndGlyphs" font-size="18.4" fill="#81dfee" stroke="#81dfee" stroke-width="0.9">Pivot</text>
<text x="1408.9" y="596" text-anchor="end" textLength="106.2" lengthAdjust="spacingAndGlyphs" font-size="18.4" fill="#31ea31" stroke="#31ea31" stroke-width="0.9">1st Support</text>
</g>
<g id="boxes">
<path d="M1420 333H1488Q1490 333 1490 335V352Q1490 354 1488 354H1420Z" fill="#f23645"/>
<text x="1431.4" y="349.1" textLength="52.4" lengthAdjust="spacingAndGlyphs" fill="#fff" stroke="#fff" stroke-width="0.3" font-size="15.2">1.38068</text>
<path d="M1420 460H1488Q1490 460 1490 462V479Q1490 481 1488 481H1420Z" fill="#81dfee"/>
<text x="1431.4" y="476.1" textLength="52.4" lengthAdjust="spacingAndGlyphs" fill="#1c2230" stroke="#1c2230" stroke-width="0.3" font-size="15.2">1.37043</text>
<path d="M1420 516H1488Q1490 516 1490 518V535Q1490 537 1488 537H1420Z" fill="#fff"/>
<text x="1431.4" y="532.1" textLength="52.4" lengthAdjust="spacingAndGlyphs" fill="#1c2230" stroke="#1c2230" stroke-width="0.3" font-size="15.2">1.36595</text>
<path d="M1420 596H1488Q1490 596 1490 598V615Q1490 617 1488 617H1420Z" fill="#31ea31"/>
<text x="1431.4" y="612.1" textLength="52.4" lengthAdjust="spacingAndGlyphs" fill="#12301a" stroke="#12301a" stroke-width="0.3" font-size="15.2">1.35947</text>
</g>
<g id="logo" fill="#e6e6e6">
<polygon points="15.2,882.2 31.1,882.2 31.1,901.1 23.1,901.1 23.1,889.8 15.2,889.8"/><circle cx="36.4" cy="886" r="3.650"/><polygon points="42.8,882.2 52.9,882.2 46.2,901.1 37,901.1"/>
<text x="62" y="900.6" textLength="151" lengthAdjust="spacingAndGlyphs" font-weight="bold" font-size="25">TradingView</text>
</g>
</svg>
</body></html>
